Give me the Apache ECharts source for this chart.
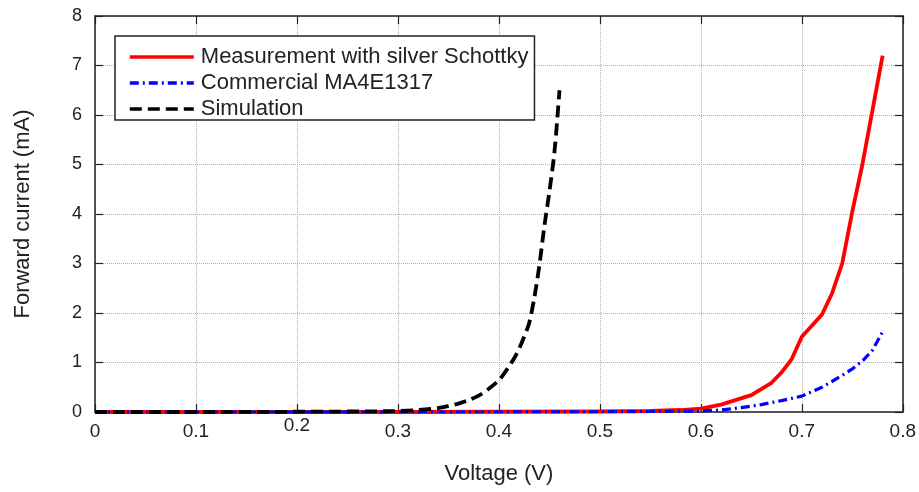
<!DOCTYPE html>
<html>
<head>
<meta charset="utf-8">
<script src="https://cdn.jsdelivr.net/npm/echarts@6/dist/echarts.min.js"></script>
<style>html,body{margin:0;padding:0;background:#fff}#c{width:919px;height:492px}</style>
</head>
<body>
<div id="c"></div>
<script>
const measV = [0, 0.1, 0.2, 0.3, 0.4, 0.5, 0.55, 0.58, 0.6, 0.62, 0.65, 0.67, 0.68, 0.69, 0.70, 0.72, 0.73, 0.74, 0.75, 0.76, 0.77, 0.78];
const measI = [0, 0, 0, 0, 0.005, 0.01, 0.02, 0.04, 0.07, 0.15, 0.34, 0.59, 0.8, 1.07, 1.52, 1.97, 2.4, 3.0, 4.05, 5.0, 6.1, 7.2];

const comV = [0, 0.1, 0.2, 0.3, 0.4, 0.5, 0.55, 0.6, 0.62, 0.64, 0.66, 0.68, 0.70, 0.71, 0.72, 0.73, 0.74, 0.75, 0.76, 0.77, 0.78];
const comI = [0, 0, 0, 0, 0, 0.005, 0.01, 0.02, 0.04, 0.09, 0.15, 0.23, 0.32, 0.41, 0.5, 0.62, 0.74, 0.87, 1.03, 1.25, 1.62];

const simV = [0, 0.1, 0.2, 0.25, 0.3, 0.32, 0.34, 0.35, 0.36, 0.37, 0.38, 0.39, 0.40, 0.405, 0.41, 0.415, 0.42, 0.425, 0.43, 0.435, 0.44, 0.445, 0.45, 0.455, 0.46];
const simI = [0, 0, 0.005, 0.01, 0.02, 0.04, 0.08, 0.12, 0.17, 0.24, 0.33, 0.47, 0.64, 0.77, 0.92, 1.08, 1.28, 1.52, 1.8, 2.3, 2.95, 3.75, 4.45, 5.25, 6.5];

const seriesNames = ['Measurement with silver Schottky', 'Commercial MA4E1317', 'Simulation'];
const xTicks = [0, 0.1, 0.2, 0.3, 0.4, 0.5, 0.6, 0.7, 0.8];
const yTicks = [0, 1, 2, 3, 4, 5, 6, 7, 8];

const pairs = (xs, ys) => xs.map((x, i) => [x, ys[i]]);
const FONT = '"Liberation Sans", Arial, sans-serif';
const chart = echarts.init(document.getElementById('c'), null, {renderer: 'canvas'});

const tickStyle = {show: true, inside: true, length: 8, lineStyle: {color: '#222', width: 1.2}};
const boxLine = {show: true, onZero: false, lineStyle: {color: '#222', width: 1.5}};
const grid = {type: 'dotted', color: '#b0b0b0', width: 1};

chart.setOption({
  animation: false,
  backgroundColor: '#fff',
  grid: {left: 95, right: 16, top: 16, bottom: 80},
  legend: {
    orient: 'vertical', left: 115, top: 36,
    padding: [10, 6, 0, 13], itemGap: 4,
    itemWidth: 64, itemHeight: 14,
    backgroundColor: '#fff', borderColor: '#222', borderWidth: 1.5,
    itemStyle: {opacity: 0},
    lineStyle: {width: 3.6},
    textStyle: {fontFamily: FONT, fontSize: 22, color: '#222', lineHeight: 22, padding: [0, 0, 0, 2]},
    data: seriesNames
  },
  xAxis: [{
    type: 'value', min: xTicks[0], max: xTicks[xTicks.length - 1], interval: 0.1,
    position: 'bottom',
    name: 'Voltage (V)', nameLocation: 'middle', nameGap: 51,
    nameTextStyle: {fontFamily: FONT, fontSize: 22, color: '#222'},
    axisLine: boxLine, axisTick: tickStyle,
    splitLine: {show: true, lineStyle: grid},
    axisLabel: {
      margin: 10, fontFamily: FONT, fontSize: 19, color: '#222',
      formatter: v => {
        const s = String(Math.round(v * 10) / 10);
        return Math.abs(v - 0.2) < 1e-9 ? '{up|' + s + '}' : s;
      },
      rich: {up: {fontFamily: FONT, fontSize: 19, color: '#222', lineHeight: 8}}
    }
  }, {
    type: 'value', min: xTicks[0], max: xTicks[xTicks.length - 1], interval: 0.1,
    position: 'top', axisLine: boxLine, axisTick: tickStyle,
    axisLabel: {show: false}, splitLine: {show: false}
  }],
  yAxis: [{
    type: 'value', min: yTicks[0], max: yTicks[yTicks.length - 1], interval: 1,
    position: 'left',
    name: 'Forward current (mA)', nameLocation: 'middle', nameGap: 61,
    nameTextStyle: {fontFamily: FONT, fontSize: 22, color: '#222'},
    axisLine: boxLine, axisTick: tickStyle,
    splitLine: {show: true, lineStyle: grid},
    axisLabel: {margin: 13, fontFamily: FONT, fontSize: 18, color: '#222'}
  }, {
    type: 'value', min: yTicks[0], max: yTicks[yTicks.length - 1], interval: 1,
    position: 'right', axisLine: boxLine, axisTick: tickStyle,
    axisLabel: {show: false}, splitLine: {show: false}
  }],
  series: [{
    name: seriesNames[0], type: 'line', showSymbol: false, symbol: 'none',
    data: pairs(measV, measI),
    lineStyle: {color: '#ff0000', width: 3.8, join: 'round'},
    itemStyle: {color: '#ff0000'}, z: 2
  }, {
    name: seriesNames[1], type: 'line', showSymbol: false, symbol: 'none',
    data: pairs(comV, comI),
    lineStyle: {color: '#0000ff', width: 3.2, type: [9, 4, 2, 4]},
    itemStyle: {color: '#0000ff'}, z: 3
  }, {
    name: seriesNames[2], type: 'line', showSymbol: false, symbol: 'none', smooth: 0.3,
    data: pairs(simV, simI),
    lineStyle: {color: '#000000', width: 3.8, type: [12, 6]},
    itemStyle: {color: '#000000'}, z: 4
  }]
});
</script>
</body>
</html>
